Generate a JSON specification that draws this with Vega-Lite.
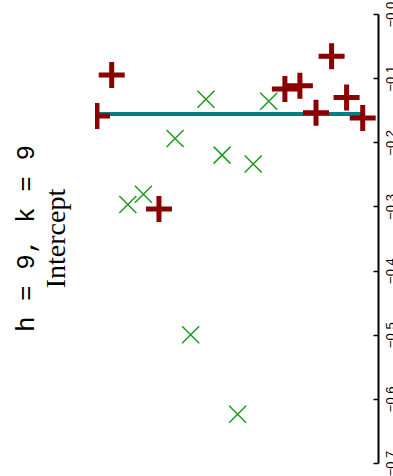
{
  "$schema": "https://vega.github.io/schema/vega-lite/v6.json",
  "width": 283,
  "height": 449,
  "autosize": {"type": "none"},
  "padding": {"left": 95, "top": 14, "right": 15, "bottom": 13},
  "background": "white",
  "title": {
    "text": "h = 9, k = 9",
    "subtitle": "Intercept",
    "orient": "left",
    "anchor": "middle",
    "font": "Liberation Mono",
    "fontSize": 26,
    "fontWeight": "normal",
    "color": "black",
    "subtitleFont": "Liberation Serif",
    "subtitleFontSize": 28,
    "subtitleColor": "black",
    "offset": 24,
    "subtitlePadding": 4
  },
  "config": {"view": {"stroke": null}},
  "datasets": {
    "fit": [{"pos": -0.5, "pos_end": 9.54, "value": -0.156}],
    "plus": [
      {"pos": 0.59, "value": -0.095},
      {"pos": 0.07, "value": -0.159},
      {"pos": 2.26, "value": -0.304},
      {"pos": 6.71, "value": -0.117},
      {"pos": 7.24, "value": -0.112},
      {"pos": 8.36, "value": -0.066},
      {"pos": 7.81, "value": -0.154},
      {"pos": 8.89, "value": -0.130},
      {"pos": 9.46, "value": -0.162}
    ],
    "cross": [
      {"pos": 3.92, "value": -0.133},
      {"pos": 6.14, "value": -0.136},
      {"pos": 2.83, "value": -0.194},
      {"pos": 4.49, "value": -0.220},
      {"pos": 5.59, "value": -0.234},
      {"pos": 1.71, "value": -0.281},
      {"pos": 1.16, "value": -0.297},
      {"pos": 3.38, "value": -0.500},
      {"pos": 5.04, "value": -0.624}
    ]
  },
  "layer": [
    {
      "data": {"name": "fit"},
      "mark": {"type": "rule", "color": "#008080", "strokeWidth": 4, "clip": true},
      "encoding": {
        "x": {"field": "pos", "type": "quantitative", "scale": {"domain": [0, 10], "nice": false, "zero": false}, "axis": null},
        "x2": {"field": "pos_end"},
        "y": {
          "field": "value",
          "type": "quantitative",
          "scale": {"domain": [-0.7, 0], "nice": false, "zero": false},
          "axis": {
            "orient": "right",
            "title": null,
            "grid": false,
            "values": [0, -0.05, -0.1, -0.15, -0.2, -0.25, -0.3, -0.35, -0.4, -0.45, -0.5, -0.55, -0.6, -0.65, -0.7],
            "labelExpr": "round(abs(datum.value) * 20) % 2 == 0 ? '−' + format(abs(datum.value), '.1f') : ''",
            "labelAngle": 270,
            "labelFont": "Liberation Sans",
            "labelFontSize": 13,
            "labelColor": "black",
            "labelPadding": 11,
            "labelFlush": false,
            "labelOverlap": false,
            "labelBound": false,
            "tickColor": "black",
            "tickWidth": 1.5,
            "tickSize": -5,
            "domainColor": "black",
            "domainWidth": 2
          }
        }
      }
    },
    {
      "data": {"name": "plus"},
      "mark": {"type": "point", "shape": "M-1,0H1M0,-1V1", "filled": false, "stroke": "#8B0000", "strokeWidth": 5, "size": 676, "opacity": 1, "clip": true},
      "encoding": {
        "x": {"field": "pos", "type": "quantitative"},
        "y": {"field": "value", "type": "quantitative"}
      }
    },
    {
      "data": {"name": "cross"},
      "mark": {"type": "point", "shape": "M-1,-1L1,1M-1,1L1,-1", "filled": false, "stroke": "#1f9a1f", "strokeWidth": 1.5, "size": 289, "opacity": 1, "clip": true},
      "encoding": {
        "x": {"field": "pos", "type": "quantitative"},
        "y": {"field": "value", "type": "quantitative"}
      }
    }
  ]
}
